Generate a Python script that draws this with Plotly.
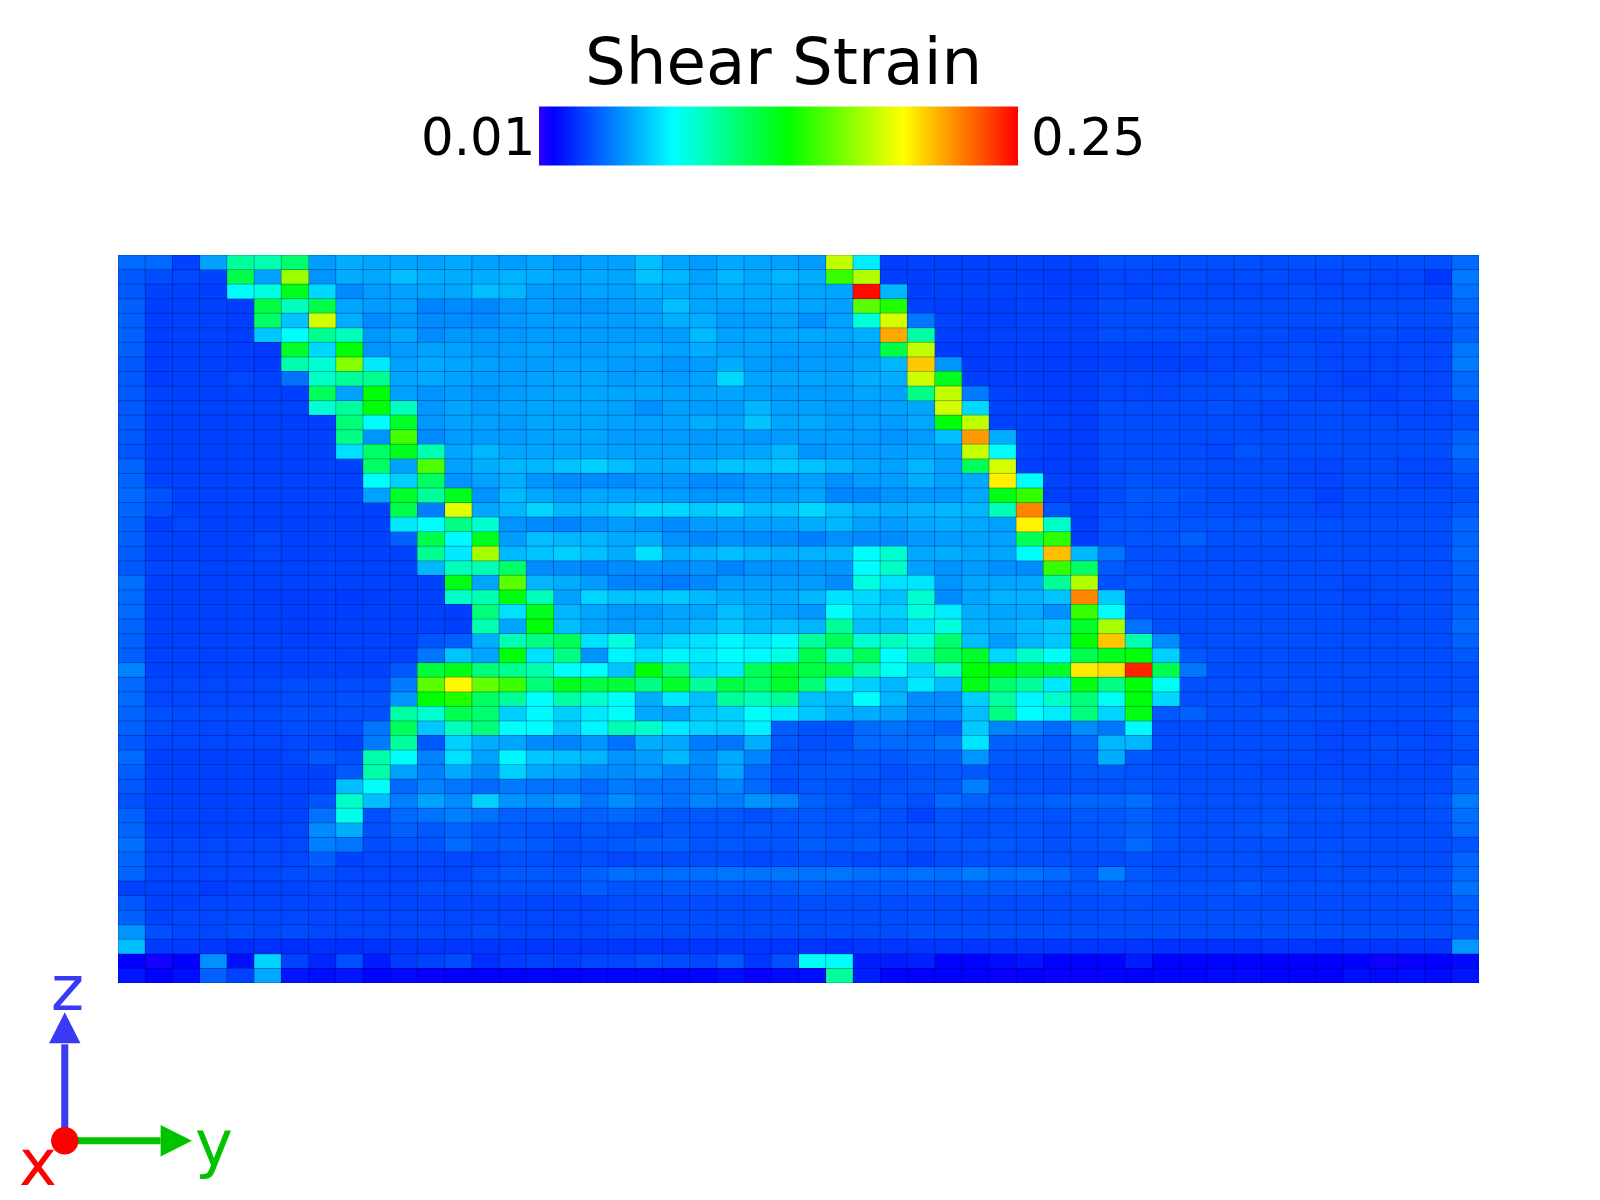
import numpy as np
import plotly.graph_objects as go

# Shear strain per cell in thousandths, top row first
strain_rows = [
    [42,42,33,55,100,95,110,54,58,56, 56,55,57,55,54,56,53,55,55,62, 56,54,57,56,55,54,178,73,32,33, 33,33,33,33,33,33,36,36,35,36, 36,36,35,36,36,36,35,36,36,42],
    [38,35,34,33,118,55,170,52,58,57, 62,58,58,58,59,58,56,57,56,63, 60,55,60,57,60,58,147,175,32,32, 33,33,33,32,32,32,34,34,34,35, 34,35,35,34,34,35,34,34,30,46],
    [38,33,33,32,77,84,128,68,50,54, 55,56,57,62,60,54,54,56,55,58, 57,56,58,57,57,56,56,248,60,32, 33,33,33,33,32,32,34,33,34,34, 34,34,34,35,34,34,34,34,33,44],
    [40,32,33,33,32,120,92,118,56,54, 55,48,50,49,52,54,52,52,54,55, 62,56,55,56,57,56,55,155,142,33, 32,32,32,33,33,33,35,35,35,35, 35,35,35,35,35,35,35,35,35,42],
    [40,32,33,33,32,112,63,182,58,50, 53,50,50,50,53,54,54,54,54,55, 58,58,54,54,55,51,55,86,183,45, 33,32,32,33,33,33,35,35,35,36, 36,35,35,35,35,35,36,35,35,40],
    [40,32,33,33,32,64,78,102,92,53, 57,50,53,53,53,54,54,54,54,54, 54,61,55,56,56,57,56,58,212,98, 32,32,33,33,33,33,35,35,35,36, 35,35,35,34,34,35,35,34,34,40],
    [40,32,33,33,32,31,125,68,133,52, 54,55,55,53,54,55,54,54,55,57, 55,58,55,55,54,54,54,55,118,178, 31,31,32,32,32,32,33,33,33,34, 34,34,34,35,34,34,34,34,34,45],
    [38,32,33,33,32,31,96,87,165,72, 55,57,56,55,54,54,55,55,54,54, 52,54,58,54,53,54,54,56,60,205, 52,31,32,32,32,32,33,33,33,33, 34,34,35,35,34,34,34,34,34,46],
    [38,32,33,33,34,33,44,90,100,102, 56,57,55,54,54,55,56,56,54,55, 54,55,68,56,56,56,55,58,58,181, 128,32,32,32,32,32,34,34,34,35, 35,36,36,35,34,33,34,34,34,42],
    [38,33,33,33,33,33,32,115,55,133, 55,52,54,52,54,55,56,56,56,56, 55,55,56,55,54,54,54,56,55,105, 178,46,33,32,32,32,34,34,34,35, 35,36,37,34,34,34,33,34,34,42],
    [38,33,33,33,33,33,33,87,100,133, 92,53,56,54,55,56,56,56,55,51, 55,54,54,60,55,55,54,54,55,56, 182,68,33,33,32,32,35,35,35,35, 36,35,34,35,35,35,34,34,34,36],
    [38,33,33,33,33,33,32,32,108,77, 125,53,55,55,54,56,56,56,55,55, 55,58,56,63,56,57,54,55,54,57, 133,178,33,33,33,32,35,35,35,35, 35,35,34,35,35,35,35,34,34,36],
    [38,33,33,33,33,33,33,33,105,52, 150,50,54,54,54,55,56,56,54,54, 54,53,54,53,54,54,54,54,52,54, 62,215,58,33,32,32,35,35,35,35, 35,35,35,35,35,35,35,35,35,40],
    [37,33,33,33,33,33,33,33,70,112, 128,95,56,60,56,56,56,56,55,55, 55,54,55,56,60,52,54,54,54,55, 55,180,78,33,32,32,35,35,35,35, 34,37,35,35,35,35,35,35,35,42],
    [41,33,33,33,33,33,33,33,33,112, 55,152,55,58,60,60,63,66,62,58, 58,60,63,63,65,63,60,57,55,60, 55,115,183,32,32,32,35,36,36,36, 35,35,35,34,34,35,35,34,34,39],
    [41,33,33,33,33,33,33,33,33,78, 66,113,52,55,58,52,50,50,50,52, 52,50,50,53,53,55,51,54,54,58, 55,57,196,78,33,32,35,37,36,36, 35,35,35,34,34,35,35,34,34,37],
    [42,37,33,33,33,33,33,33,33,55, 125,100,128,52,61,57,54,57,56,55, 54,52,52,54,54,56,49,49,52,53, 53,57,130,146,32,32,35,38,38,37, 35,35,35,35,33,35,35,35,35,36],
    [41,35,33,33,33,33,33,33,33,33, 118,47,186,57,60,67,60,61,64,68, 68,65,68,62,63,68,62,59,58,59, 60,60,93,220,37,32,36,37,37,36, 36,35,35,35,34,35,35,35,35,38],
    [40,32,34,33,33,33,33,33,33,33, 72,77,105,88,52,50,48,51,54,52, 50,54,54,55,55,58,60,55,54,57, 58,57,55,195,90,32,37,37,37,37, 37,37,37,36,36,36,36,36,36,41],
    [40,33,33,33,33,34,33,33,33,33, 40,118,76,128,54,62,60,60,57,58, 51,49,51,50,50,47,51,50,50,53, 54,55,55,115,145,32,36,37,37,40, 36,36,36,36,35,35,35,35,35,41],
    [39,33,33,33,33,34,33,33,33,33, 33,102,72,172,61,63,66,62,58,70, 58,59,62,60,58,59,60,77,88,57, 58,56,56,78,207,60,45,36,36,36, 35,35,35,35,35,35,35,35,35,42],
    [38,34,34,33,33,33,33,33,33,33, 33,60,93,94,112,50,50,48,50,50, 50,51,48,51,51,52,53,77,90,55, 52,54,51,50,147,112,38,36,36,35, 35,35,35,35,35,35,35,35,35,40],
    [43,33,33,33,33,33,33,33,33,33, 33,33,130,56,155,60,58,54,48,48, 46,49,54,54,54,54,50,84,70,71, 52,56,56,57,100,175,36,38,35,35, 35,35,35,35,35,34,35,35,35,39],
    [42,33,33,33,33,32,32,32,31,32, 33,33,90,95,132,93,55,67,63,63, 65,61,58,57,57,60,70,68,62,88, 50,56,59,59,63,220,65,36,35,35, 35,35,35,35,35,34,35,35,35,39],
    [42,33,33,33,33,33,32,32,32,33, 33,33,32,108,70,128,60,56,53,53, 56,56,62,58,55,53,78,66,66,85, 73,58,56,57,51,147,78,36,35,35, 35,35,35,35,35,35,34,35,35,40],
    [41,33,33,33,33,33,32,32,33,33, 33,33,32,95,56,133,62,56,54,56, 57,60,64,60,62,60,100,62,62,70, 85,59,58,61,64,125,172,44,36,35, 36,36,36,36,35,35,35,35,35,42],
    [40,32,33,33,33,33,32,32,33,33, 32,37,39,58,95,105,115,70,85,62, 68,70,75,72,76,100,115,88,92,85, 110,62,54,60,64,133,205,95,50,35, 36,36,36,36,35,35,35,35,35,40],
    [40,33,33,33,33,33,33,33,33,33, 33,45,63,56,133,70,105,52,75,70, 75,72,77,76,83,118,90,115,77,94, 115,125,68,90,78,117,128,133,66,38, 36,35,36,35,35,35,35,35,35,38],
    [48,33,33,33,33,33,33,33,33,33, 38,122,130,108,102,96,77,77,63,135, 108,68,72,115,125,120,118,96,80,68, 90,134,134,125,125,197,200,242,118,45, 35,35,36,35,35,36,35,35,35,36],
    [42,34,34,34,34,34,35,35,35,35, 46,155,194,157,148,108,128,120,122,105, 125,100,120,112,125,108,72,66,60,72, 62,130,110,100,72,130,105,133,80,36, 36,36,36,36,35,35,35,35,35,36],
    [42,34,34,34,34,34,35,35,36,36, 52,134,142,113,100,78,98,88,78,58, 72,62,100,93,100,62,60,78,60,50, 50,66,98,75,90,108,80,132,68,36, 36,36,34,36,35,35,35,35,35,36],
    [41,36,35,35,35,35,36,36,36,36, 98,88,117,110,66,76,66,72,78,57, 55,63,66,78,72,64,58,58,55,49, 50,62,105,77,73,107,67,131,38,40, 36,36,37,36,36,35,35,35,35,39],
    [40,35,34,34,34,34,35,35,35,45, 115,64,92,108,78,77,64,75,94,90, 72,67,66,74,39,37,37,42,44,42, 40,65,48,46,42,50,45,76,35,35, 35,35,35,35,34,34,34,34,34,37],
    [38,34,34,34,34,34,34,34,33,46, 100,38,66,58,56,50,48,52,44,58, 57,46,45,58,38,36,36,42,42,42, 46,71,40,40,38,42,60,60,35,35, 35,35,35,35,34,34,36,35,34,37],
    [42,33,33,33,33,33,34,38,36,96, 78,48,70,55,75,64,62,60,52,54, 61,50,57,48,37,37,38,38,38,40, 40,52,38,38,38,40,58,38,35,36, 35,35,35,35,34,34,35,34,34,35],
    [39,33,33,33,33,33,33,33,38,98, 55,47,57,50,66,57,55,50,50,52, 48,48,56,42,37,38,38,38,36,37, 38,38,36,36,36,38,38,37,36,35, 35,35,34,34,34,34,34,34,34,40],
    [38,33,33,33,33,33,33,33,62,78, 42,48,45,42,46,44,44,42,46,44, 44,46,49,42,36,38,37,36,37,38, 38,47,37,37,36,37,37,38,36,36, 36,36,36,36,36,35,35,35,35,40],
    [36,33,33,33,33,33,33,37,90,62, 47,55,50,66,52,50,52,45,50,46, 44,48,46,52,48,40,38,35,38,36, 42,40,39,39,40,41,41,43,38,36, 36,36,36,35,36,37,35,35,37,46],
    [40,33,33,33,33,33,33,44,82,36, 42,44,47,44,40,40,40,40,42,40, 38,38,38,36,38,38,37,38,36,33, 37,36,36,37,37,38,38,40,37,36, 36,36,37,36,36,36,35,35,36,43],
    [41,33,33,33,33,33,34,50,58,36, 40,38,41,38,38,37,36,38,37,36, 38,37,37,38,37,38,37,37,36,36, 37,36,37,37,36,37,38,40,37,36, 36,37,38,35,35,36,35,35,35,42],
    [43,34,34,34,34,34,34,47,45,35, 37,37,42,38,39,38,36,37,38,40, 40,37,38,37,37,39,38,39,37,36, 37,38,38,37,36,37,38,42,37,36, 36,36,36,36,36,36,35,35,35,37],
    [41,34,34,34,34,34,34,39,33,34, 34,34,34,34,36,36,35,36,34,35, 35,36,35,34,35,36,35,34,35,33, 35,36,36,36,36,35,35,36,35,36, 36,36,35,35,36,35,35,35,35,41],
    [41,34,34,34,34,34,35,36,34,34, 34,34,34,37,38,38,37,40,43,42, 43,43,45,44,45,44,45,43,42,44, 43,46,43,44,42,38,47,38,36,36, 36,36,36,35,36,36,36,36,36,42],
    [33,33,33,31,33,33,33,34,34,34, 34,35,35,36,36,36,36,39,37,37, 38,38,38,38,38,39,38,38,38,38, 38,38,38,38,37,37,38,38,37,37, 37,38,36,36,36,36,36,36,36,44],
    [38,33,33,34,34,34,34,34,34,34, 34,34,34,34,34,34,34,34,35,35, 35,35,35,35,35,36,36,36,35,35, 35,35,35,35,35,35,36,36,35,35, 36,35,35,35,35,35,35,35,35,39],
    [40,33,34,34,34,34,34,34,34,34, 34,34,34,34,34,34,34,34,35,35, 35,35,35,35,35,35,35,35,35,35, 35,35,35,35,35,35,36,36,36,36, 36,36,36,36,35,35,35,35,35,38],
    [52,36,34,34,35,34,35,34,34,34, 34,34,34,35,34,34,34,34,35,35, 35,35,35,35,35,35,35,35,35,36, 36,36,36,36,36,36,36,36,36,36, 36,36,36,36,36,36,36,36,36,38],
    [62,31,31,30,28,29,28,29,28,29, 30,30,30,30,30,30,30,30,30,30, 30,30,30,30,30,30,29,30,30,30, 30,30,30,30,30,30,30,30,29,29, 29,29,30,30,29,30,30,30,30,53],
    [17,14,17,51,21,67,33,26,36,24, 31,33,35,28,31,33,32,34,34,36, 35,34,38,30,36,77,77,24,24,25, 18,18,20,22,18,18,18,24,18,18, 18,18,17,17,17,17,15,16,17,19],
    [22,17,20,40,33,57,22,20,22,18, 19,16,17,17,17,18,17,18,18,18, 17,18,20,16,19,20,100,24,18,17, 17,17,16,17,16,16,18,17,18,18, 19,19,18,17,17,20,19,20,19,22],
]
strain_min = 0.01
strain_max = 0.25
tick_labels = ["0.01", "0.25"]
title_text = "Shear Strain"
rainbow = [
    [0.0, "rgb(45,0,255)"],
    [0.03, "rgb(0,0,255)"],
    [0.28, "rgb(0,255,255)"],
    [0.52, "rgb(0,255,0)"],
    [0.76, "rgb(255,255,0)"],
    [1.0, "rgb(255,0,0)"],
]

W, H = 1600, 1200
PLOT_L, PLOT_R, PLOT_T, PLOT_B = 118.4, 1478.6, 255.1, 982.7
FONT = "DejaVu Sans"
TRIAD_BLUE = "rgb(58,58,245)"
TRIAD_GREEN = "rgb(0,195,0)"
TRIAD_RED = "rgb(255,0,0)"


def px(x):
    return (x - PLOT_L) / (PLOT_R - PLOT_L)


def py(y):
    return (PLOT_B - y) / (PLOT_B - PLOT_T)


def paper_path(points):
    pts = [f"{px(x)},{py(y)}" for x, y in points]
    return "M " + " L ".join(pts) + " Z"


def main():
    strain = np.array(strain_rows) / 1000.0
    for i, row in enumerate(strain_rows):
        assert len(row) == 50, i
    n_rows, n_cols = strain.shape

    fig = go.Figure()
    fig.add_trace(go.Heatmap(
        z=strain, x=list(range(n_cols)), y=list(range(n_rows)),
        zmin=strain_min, zmax=strain_max, colorscale=rainbow,
        colorbar=dict(
            orientation="h", lenmode="pixels", len=479, thicknessmode="pixels", thickness=59,
            xref="container", yref="container", x=915 / W, y=1 - 135.5 / H,
            xanchor="center", yanchor="middle", xpad=0, ypad=0,
            outlinewidth=0, borderwidth=0, ticks="", showticklabels=False,
        ),
    ))

    # Thin dark cell outlines on top of the heatmap
    grid_x, grid_y = [], []
    for e in np.arange(n_cols + 1) - 0.5:
        grid_x += [e, e, None]
        grid_y += [-0.5, n_rows - 0.5, None]
    for e in np.arange(n_rows + 1) - 0.5:
        grid_x += [-0.5, n_cols - 0.5, None]
        grid_y += [e, e, None]
    fig.add_trace(go.Scatter(
        x=grid_x, y=grid_y, mode="lines", hoverinfo="skip", showlegend=False,
        line=dict(color="rgba(0,0,50,0.3)", width=1),
    ))

    # Orientation triad in the lower left corner
    cx, cy = 65.2, 1140.3
    shapes = [
        dict(type="path", path=paper_path([(cx - 3.5, cy), (cx - 3.5, 1044), (cx + 3.5, 1044), (cx + 3.5, cy)]),
             fillcolor=TRIAD_BLUE, line_width=0),
        dict(type="path", path=paper_path([(cx - 15.7, 1043), (cx, 1012), (cx + 15.7, 1043)]),
             fillcolor=TRIAD_BLUE, line_width=0),
        dict(type="path", path=paper_path([(cx, cy - 3.5), (161, cy - 3.5), (161, cy + 3.5), (cx, cy + 3.5)]),
             fillcolor=TRIAD_GREEN, line_width=0),
        dict(type="path", path=paper_path([(161, cy - 15.7), (192.3, cy), (161, cy + 15.7)]),
             fillcolor=TRIAD_GREEN, line_width=0),
        dict(type="circle", x0=px(cx - 13.7), x1=px(cx + 13.7),
             y0=py(cy + 13.7), y1=py(cy - 13.7), fillcolor=TRIAD_RED, line_width=0),
    ]
    for s in shapes:
        s["xref"] = "paper"
        s["yref"] = "paper"
        s["layer"] = "above"

    def label(text, x, y, size, color="black"):
        return dict(text=text, x=px(x), y=py(y), xref="paper", yref="paper", showarrow=False,
                    xanchor="center", yanchor="middle", font=dict(family=FONT, size=size, color=color))

    annotations = [
        label(title_text, 784, 61.5, 64.2),
        label(tick_labels[0], 478, 137, 51.4),
        label(tick_labels[1], 1087.5, 137, 51.4),
        label("z", 68, 988, 63, TRIAD_BLUE),
        label("y", 214, 1144, 64, TRIAD_GREEN),
        label("x", 38, 1163, 64, TRIAD_RED),
    ]

    fig.update_layout(
        width=W, height=H, paper_bgcolor="white", plot_bgcolor="white", showlegend=False,
        margin=dict(l=PLOT_L, r=W - PLOT_R, t=PLOT_T, b=H - PLOT_B, pad=0),
        shapes=shapes, annotations=annotations,
    )
    fig.update_xaxes(visible=False, range=[-0.5, n_cols - 0.5])
    fig.update_yaxes(visible=False, range=[n_rows - 0.5, -0.5])
    fig.write_html("out.html", config={"displayModeBar": False},
                   post_script="document.body.style.margin='0';")


if __name__ == "__main__":
    main()
